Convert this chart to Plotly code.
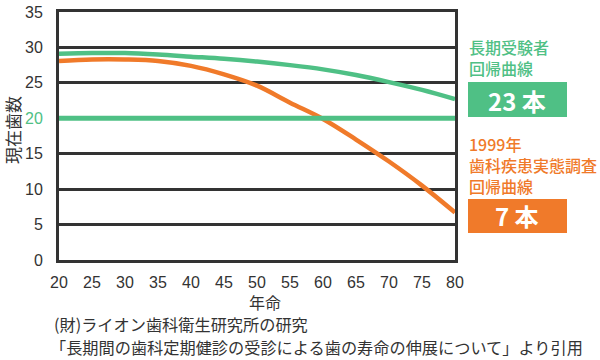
import plotly.graph_objects as go

ages = [20, 25, 30, 35, 40, 45, 50, 55, 60, 65, 70, 75, 80]
long_term = [29.1, 29.2, 29.2, 29.0, 28.7, 28.4, 28.0, 27.5, 26.9, 26.1, 25.1, 24.0, 22.7]
survey_1999 = [28.1, 28.3, 28.3, 28.1, 27.4, 26.2, 24.6, 22.2, 19.9, 17.0, 13.9, 10.5, 6.7]
target_line = 20
y_ticks = [0, 5, 10, 15, 20, 25, 30, 35]
x_ticks = [20, 25, 30, 35, 40, 45, 50, 55, 60, 65, 70, 75, 80]

GREEN = "#4fc085"
ORANGE = "#f07a2a"
DARK = "#333333"
FONT = "Liberation Sans, Arial, Noto Sans CJK JP"
JP = "Noto Sans CJK JP"

L, R, T, B = 59, 455, 12, 260
W, H = R - L, B - T


def px(x):
    return (x - L) / W


def py(y):
    return (B - y) / H


fig = go.Figure()
fig.add_trace(go.Scatter(x=ages, y=long_term, mode="lines",
                         line=dict(color=GREEN, width=4.5, shape="spline"),
                         showlegend=False, hoverinfo="skip"))
fig.add_trace(go.Scatter(x=ages, y=survey_1999, mode="lines",
                         line=dict(color=ORANGE, width=4.5, shape="spline"),
                         showlegend=False, hoverinfo="skip"))

fig.add_hline(y=target_line, line=dict(color=GREEN, width=5), layer="above")

ytext = [f'<span style="color:{GREEN}">{v}</span>' if v == target_line else str(v) for v in y_ticks]

fig.update_layout(
    width=600, height=360,
    margin=dict(l=L, r=600 - R, t=T, b=360 - B, pad=0, autoexpand=False),
    paper_bgcolor="white", plot_bgcolor="white",
    font=dict(family=FONT, color=DARK, size=16),
    xaxis=dict(range=[20, 80], tickvals=x_ticks, showgrid=False, zeroline=False,
               showline=True, mirror=True, linecolor=DARK, linewidth=3, automargin=False,
               ticks="", ticklabelstandoff=6, tickfont=dict(size=16, color=DARK)),
    yaxis=dict(range=[0, 35], tickvals=y_ticks, ticktext=ytext, showgrid=True,
               gridcolor=DARK, gridwidth=3, zeroline=False, automargin=False,
               showline=True, mirror=True, linecolor=DARK, linewidth=3,
               ticks="", ticklabelstandoff=10, tickfont=dict(size=16, color=DARK)),
)

ann = []
# axis titles
ann.append(dict(text="現在歯数", x=px(12), y=py(130), textangle=-90,
                font=dict(family=JP, size=17, color=DARK)))
ann.append(dict(text="年命", x=px(265), y=py(302),
                font=dict(family=JP, size=16, color=DARK)))
# footnote
ann.append(dict(text="(財)ライオン歯科衛生研究所の研究", x=px(52), y=py(324), xanchor="left",
                font=dict(family=JP, size=16.2, color=DARK)))
ann.append(dict(text="「長期間の歯科定期健診の受診による歯の寿命の伸展について」より引用", x=px(48), y=py(347),
                xanchor="left", font=dict(family=JP, size=16.2, color=DARK)))
# green label
ann.append(dict(text="長期受験者<br>回帰曲線", x=px(467), y=py(58), xanchor="left", align="left",
                font=dict(family=JP, size=16, color=GREEN, weight=500)))
ann.append(dict(text="<b>23 本</b>", x=px(517), y=py(100),
                font=dict(family=JP, size=24, color="white")))
# orange label
ann.append(dict(text="1999年<br>歯科疾患実態調査<br>回帰曲線", x=px(467), y=py(165), xanchor="left",
                align="left", font=dict(family=JP, size=16, color=ORANGE, weight=500)))
ann.append(dict(text="<b>7 本</b>", x=px(517), y=py(216),
                font=dict(family=JP, size=24, color="white")))

for a in ann:
    a.setdefault("xanchor", "center")
    a.update(xref="paper", yref="paper", yanchor="middle", showarrow=False)
    fig.add_annotation(**a)

fig.add_shape(type="rect", xref="paper", yref="paper", x0=px(468), x1=px(567),
              y0=py(117), y1=py(82), fillcolor=GREEN, line=dict(width=0), layer="below")
fig.add_shape(type="rect", xref="paper", yref="paper", x0=px(468), x1=px(567),
              y0=py(233), y1=py(199), fillcolor=ORANGE, line=dict(width=0), layer="below")

fig.write_html("out.html", config={"displayModeBar": False},
               post_script="document.body.style.margin='0';")
